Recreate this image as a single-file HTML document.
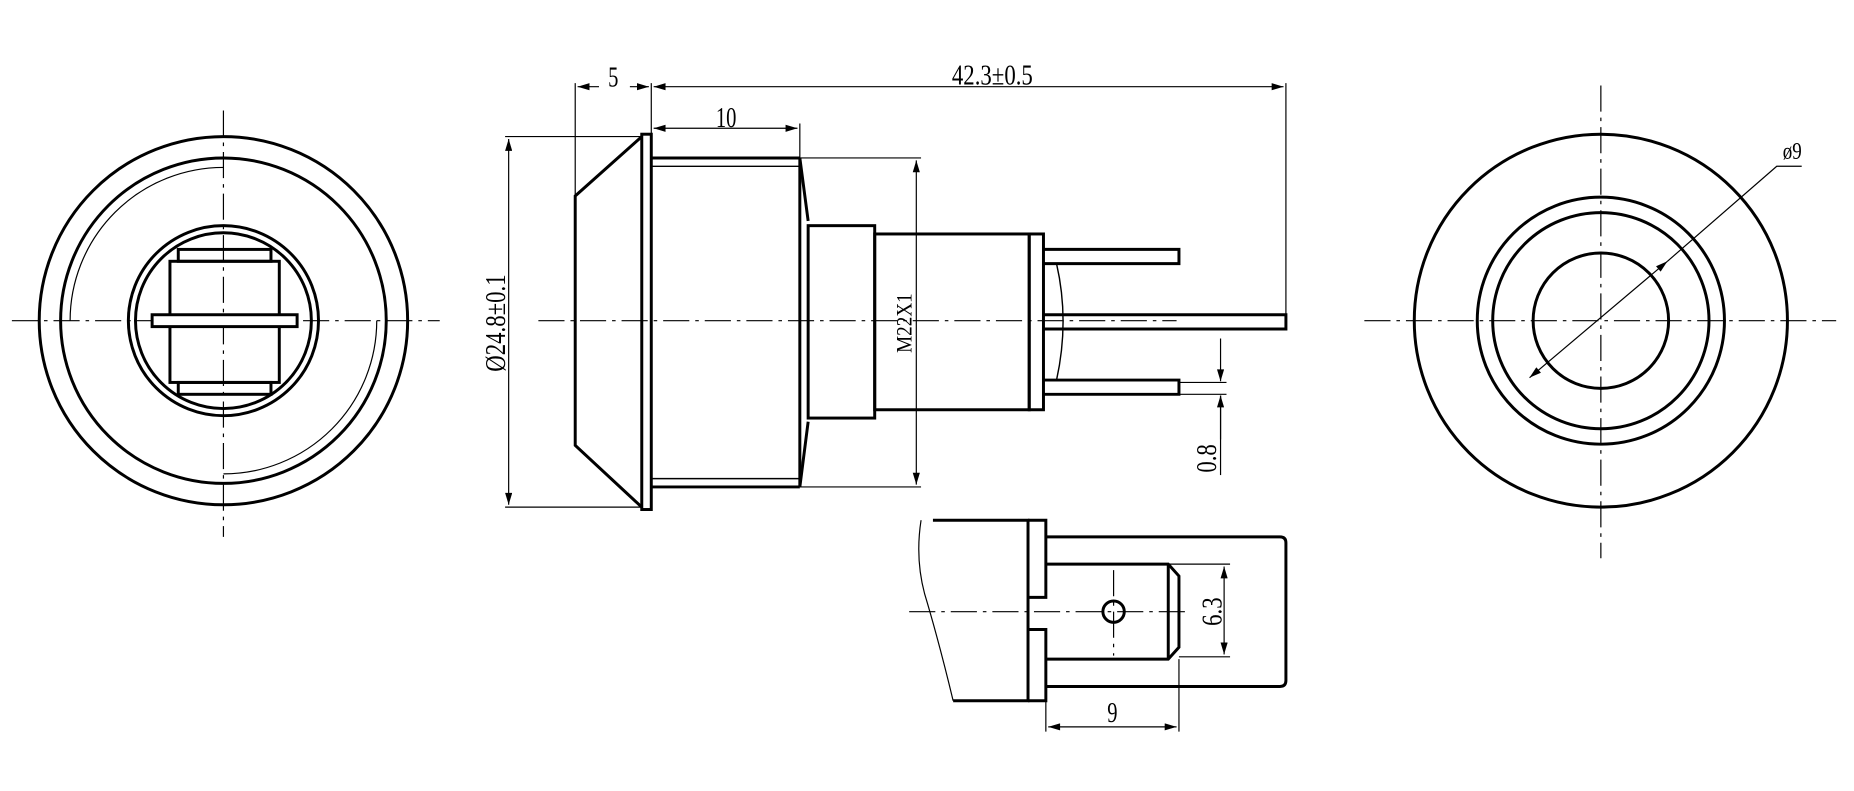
<!DOCTYPE html>
<html><head><meta charset="utf-8"><style>
html,body{margin:0;padding:0;background:#fff;width:1854px;height:791px;overflow:hidden}
svg{display:block}
text{font-family:"Liberation Serif",serif;fill:#000}
</style></head><body>
<svg width="1854" height="791" viewBox="0 0 1560 666" preserveAspectRatio="none" xmlns="http://www.w3.org/2000/svg">
<defs>
<marker id="a" viewBox="0 0 10 6" refX="10" refY="3" markerWidth="16" markerHeight="6" markerUnits="userSpaceOnUse" orient="auto-start-reverse"><path d="M0,0L10,3L0,6z" fill="#000"/></marker>
</defs>
<g fill="none" stroke="#000">
<g stroke-width="1" stroke-dasharray="22,5,3,5">
<line x1="10" y1="270" x2="370" y2="270"/><line x1="188" y1="93" x2="188" y2="452"/>
<line x1="453" y1="270" x2="990" y2="270"/>
<line x1="1148" y1="270" x2="1545" y2="270"/><line x1="1347" y1="72" x2="1347" y2="470"/>
<line x1="765" y1="515" x2="1000" y2="515"/><line x1="937" y1="480" x2="937" y2="552"/>
</g>
<g stroke-width="2.5">
<circle cx="188" cy="270" r="155"/><circle cx="188" cy="270" r="137"/>
<circle cx="188" cy="270" r="80"/><circle cx="188" cy="270" r="74"/>
<rect x="143" y="220" width="92" height="102"/>
<rect x="150" y="210" width="78" height="10"/><rect x="150" y="322" width="78" height="10"/>
<rect x="128" y="265" width="122" height="10" fill="#fff"/>
</g>
<path d="M59,270 A129,129 0 0 1 188,141 M317,270 A129,129 0 0 1 188,399" stroke-width="1"/>
<g stroke-width="2.5">
<path d="M540,115 L484,165 L484,375 L540,427"/>
<rect x="540" y="113" width="8" height="316"/>
<path d="M548,133 H673 M548,410 H673 M673,133 V410"/>
<path d="M673,133 L680,186 M673,410 L680,355"/>
<rect x="680" y="190" width="56" height="162"/>
<rect x="736" y="197" width="130" height="148"/>
<rect x="866" y="197" width="12" height="148"/>
<path d="M878,210 H992 V222 H878 M878,265 H1082 V277 H878 M878,320 H992 V332 H878"/>
</g>
<g stroke-width="1.2">
<path d="M548,140 H673 M548,403 H673"/>
<path d="M889,222 Q900,270 889,320"/>
</g>
<g stroke-width="1">
<path d="M484,70 V165 M548,70 V112 M673,104 V133 M1082,70 V265"/>
<line x1="504" y1="73" x2="486" y2="73" marker-end="url(#a)"/>
<line x1="530" y1="73" x2="546" y2="73" marker-end="url(#a)"/>
<line x1="550" y1="73" x2="1080" y2="73" marker-start="url(#a)" marker-end="url(#a)"/>
<line x1="550" y1="108" x2="671" y2="108" marker-start="url(#a)" marker-end="url(#a)"/>
<path d="M425,115 H540 M425,427 H540"/>
<line x1="428" y1="117" x2="428" y2="425" marker-start="url(#a)" marker-end="url(#a)"/>
<path d="M673,133 H775 M673,410 H775"/>
<line x1="771" y1="135" x2="771" y2="408" marker-start="url(#a)" marker-end="url(#a)"/>
<path d="M992,322 H1032 M992,332 H1032"/>
<line x1="1027" y1="285" x2="1027" y2="321" marker-end="url(#a)"/>
<line x1="1027" y1="370" x2="1027" y2="333" marker-end="url(#a)"/>
<line x1="1027" y1="333" x2="1027" y2="400"/>
</g>
<g stroke-width="2.5">
<circle cx="1347" cy="270" r="157"/><circle cx="1347" cy="270" r="104"/>
<circle cx="1347" cy="270" r="91"/><circle cx="1347" cy="270" r="57"/>
</g>
<line x1="1287" y1="318" x2="1403" y2="220" stroke-width="1" marker-start="url(#a)" marker-end="url(#a)"/>
<path d="M1403,220 L1495,140 H1516" stroke-width="1"/>
<g stroke-width="2.5">
<path d="M785,438 H865 V590 H802"/>
<path d="M865,438 H880 V503 H865 M865,530 H880 V590 H865"/>
<path d="M880,452 H1077 Q1082,452 1082,457 V573 Q1082,578 1077,578 H880"/>
<path d="M880,475 H983 L992,485 V545 L983,555 H880"/>
<line x1="983" y1="475" x2="983" y2="555"/>
<circle cx="937" cy="515" r="9"/>
</g>
<path d="M775,438 Q770,470 778,500 Q790,540 802,590" stroke-width="1"/>
<g stroke-width="1">
<path d="M983,475 H1035 M992,553 H1035"/>
<line x1="1030" y1="477" x2="1030" y2="551" marker-start="url(#a)" marker-end="url(#a)"/>
<path d="M880,590 V616 M992,555 V616"/>
<line x1="882" y1="612" x2="990" y2="612" marker-start="url(#a)" marker-end="url(#a)"/>
</g>
</g>
<g font-size="24">
<text transform="translate(516,73) scale(0.72,1)" text-anchor="middle">5</text>
<text transform="translate(835,71) scale(0.8,1)" text-anchor="middle">42.3±0.5</text>
<text transform="translate(611,107) scale(0.72,1)" text-anchor="middle">10</text>
<text transform="translate(425,272) rotate(-90) scale(0.8,1)" text-anchor="middle">Ø24.8±0.1</text>
<text transform="translate(767,272) rotate(-90) scale(0.85,1)" text-anchor="middle" font-family="Liberation Sans, sans-serif" font-size="19">M22X1</text>
<text transform="translate(1023,386) rotate(-90) scale(0.8,1)" text-anchor="middle">0.8</text>
<text transform="translate(1028,515) rotate(-90) scale(0.8,1)" text-anchor="middle">6.3</text>
<text transform="translate(936,608) scale(0.72,1)" text-anchor="middle">9</text>
<text transform="translate(1508,134) scale(0.8,1)" text-anchor="middle" font-size="20">ø9</text>
</g>
</svg>
</body></html>
